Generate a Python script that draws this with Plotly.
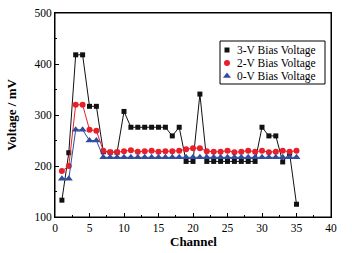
import plotly.graph_objects as go

channels = list(range(1, 36))
v3 = [133, 226, 418, 418, 317, 317, 228, 227, 227, 307, 276, 276, 276, 276, 276, 276, 259, 276, 209, 209,
      341, 209, 209, 209, 209, 209, 209, 209, 209, 276, 259, 259, 208, 225, 125]
v2 = [190, 200, 320, 320, 271, 269, 230, 227, 227, 229, 231, 228, 229, 230, 228, 229, 229, 230, 233, 235,
      235, 229, 228, 228, 230, 227, 228, 230, 228, 230, 227, 228, 230, 228, 230]
v0 = [175, 175, 271, 271, 250, 250] + [217] * 29
names = ["3-V Bias Voltage", "2-V Bias Voltage", "0-V Bias Voltage"]

black = "#111111"
red = "#e8202a"
blue = "#2f4c9e"
font = "Liberation Serif"

W, H = 352, 253
L, R, T, B = 55, 21, 13, 36

fig = go.Figure()
specs = [(v3, black, "square", 5), (v2, red, "circle", 6), (v0, blue, "triangle-up", 7)]
for name, (vals, col, sym, sz) in zip(names, specs):
    fig.add_trace(go.Scatter(x=channels, y=vals, mode="lines+markers", showlegend=False, name=name,
                             line=dict(color=col, width=1),
                             marker=dict(color=col, symbol=sym, size=sz)))

# plot frame
fig.add_shape(type="rect", xref="paper", yref="paper", x0=0, x1=1, y0=0, y1=1,
              line=dict(color="black", width=1), fillcolor="rgba(0,0,0,0)", layer="above")

# legend drawn in a pixel-coordinate overlay (box, symbols, labels)
leg_x0, leg_x1, leg_y0, leg_y1 = 220, 325, 41, 84
leg_rows = [50, 63, 76]
sym_x, txt_x = 227, 235
fig.add_shape(type="rect", xref="x2", yref="y2", x0=leg_x0, x1=leg_x1, y0=leg_y0, y1=leg_y1,
              line=dict(color="black", width=1), fillcolor="white", layer="below")
for name, (vals, col, sym, sz), ry in zip(names, specs, leg_rows):
    fig.add_trace(go.Scatter(x=[sym_x], y=[ry], xaxis="x2", yaxis="y2", mode="markers",
                             showlegend=False, hoverinfo="skip",
                             marker=dict(color=col, symbol=sym, size=sz)))
    fig.add_annotation(x=txt_x, y=ry, xref="x2", yref="y2", text=name, showarrow=False,
                       xanchor="left", yanchor="middle",
                       font=dict(family=font, size=11.5, color="black"))

axis_common = dict(showline=True, linecolor="black", linewidth=1, mirror=True, automargin=False,
                   ticks="inside", ticklen=4, tickcolor="black", showgrid=False, zeroline=False,
                   tickfont=dict(family=font, size=11.5, color="black"))
fig.update_xaxes(range=[0, 40], dtick=5, tick0=0,
                 minor=dict(ticks="inside", ticklen=2, dtick=2.5, tickcolor="black"),
                 **axis_common)
fig.update_yaxes(range=[100, 500], dtick=100, tick0=100,
                 minor=dict(ticks="inside", ticklen=2, dtick=50, tickcolor="black"),
                 title=dict(text="<b>Voltage / mV</b>", font=dict(family=font, size=13, color="black"), standoff=14),
                 **axis_common)
fig.update_layout(
    width=W, height=H, margin=dict(l=L, r=R, t=T, b=B, autoexpand=False),
    plot_bgcolor="white", paper_bgcolor="white", showlegend=False,
    xaxis2=dict(overlaying="x", range=[L, W - R], visible=False, fixedrange=True, automargin=False),
    yaxis2=dict(overlaying="y", range=[H - B, T], visible=False, fixedrange=True, automargin=False),
)
fig.add_annotation(text="<b>Channel</b>", xref="paper", yref="paper", x=0.5, y=-0.075,
                   xanchor="center", yanchor="top", showarrow=False,
                   font=dict(family=font, size=13, color="black"))
fig.write_html("out.html", config={"displayModeBar": False},
               post_script="document.body.style.margin='0';document.body.style.overflow='hidden';")
